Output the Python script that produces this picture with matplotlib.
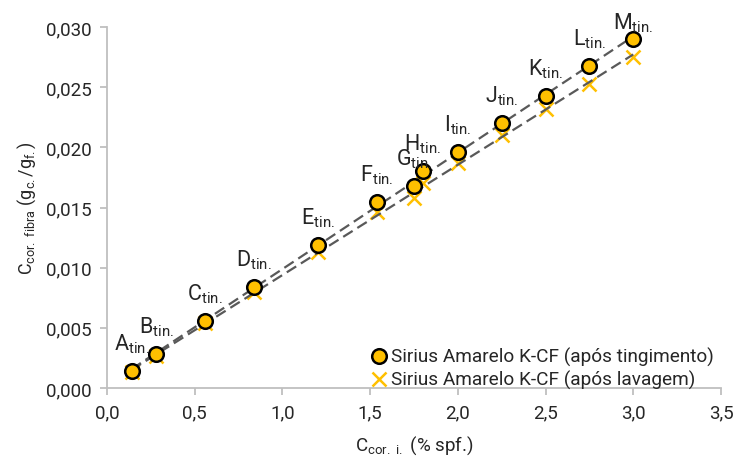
import numpy as np
import matplotlib
matplotlib.use("Agg")
import matplotlib.pyplot as plt
from matplotlib.ticker import FuncFormatter, MultipleLocator

# Dados: concentração inicial vs concentração na fibra
conc_inicial = [0.14, 0.28, 0.56, 0.84, 1.2, 1.54, 1.75, 1.8, 2.0, 2.25, 2.5, 2.75, 3.0]
fibra_tingimento = [0.0014, 0.0028, 0.0056, 0.0084, 0.0119, 0.0155, 0.0168, 0.0180,
                    0.0196, 0.0220, 0.0243, 0.0268, 0.0290]
fibra_lavagem = [0.0013, 0.0027, 0.0054, 0.0080, 0.0113, 0.0146, 0.0158, 0.0170,
                 0.0187, 0.0210, 0.0232, 0.0253, 0.0275]
rotulos = ["A", "B", "C", "D", "E", "F", "G", "H", "I", "J", "K", "L", "M"]

fonte = "Roboto"
plt.rcParams["font.family"] = [fonte, "DejaVu Sans"]
plt.rcParams["mathtext.fontset"] = "custom"
plt.rcParams["mathtext.rm"] = fonte
plt.rcParams["mathtext.it"] = fonte + ":italic"
plt.rcParams["mathtext.bf"] = fonte + ":bold"

amarelo = "#FFC000"
cinza_eixo = "#BFBFBF"
cinza_linha = "#595959"
cor_texto = "#262626"

fig = plt.figure(figsize=(7.34, 4.64), dpi=100)
ax = fig.add_axes([0.1458, 0.1616, 0.8365, 0.778])

x = np.array(conc_inicial)

# linhas de tendência (regressão linear)
for y in (fibra_tingimento, fibra_lavagem):
    a, b = np.polyfit(x, y, 1)
    xs = np.array([x.min(), x.max()])
    ax.plot(xs, a * xs + b, color=cinza_linha, lw=1.6, dashes=(5, 2.5), zorder=3)

ax.plot(x, fibra_lavagem, linestyle="none", marker="x", ms=10, mew=1.8,
        color=amarelo, zorder=2, label="Sirius Amarelo K-CF (após lavagem)")
ax.plot(x, fibra_tingimento, linestyle="none", marker="o", ms=10.5, mew=1.8,
        markerfacecolor=amarelo, markeredgecolor="black", zorder=4,
        label="Sirius Amarelo K-CF (após tingimento)")

# rótulos dos pontos
for i, (xi, yi, r) in enumerate(zip(conc_inicial, fibra_tingimento, rotulos)):
    dy = 5 if i == len(rotulos) - 1 else 16
    ax.annotate(r + r"$_{\mathrm{tin.}}$", (xi, yi), xytext=(0, dy),
                textcoords="offset pixels", ha="center", va="bottom",
                fontsize=15.5, color=cor_texto, zorder=5)

ax.set_xlim(0, 3.5)
ax.set_ylim(0, 0.030)
ax.xaxis.set_major_locator(MultipleLocator(0.5))
ax.yaxis.set_major_locator(MultipleLocator(0.005))
ax.xaxis.set_major_formatter(FuncFormatter(lambda v, p: f"{v:.1f}".replace(".", ",")))
ax.yaxis.set_major_formatter(FuncFormatter(lambda v, p: f"{v:.3f}".replace(".", ",")))

for lado in ("top", "right"):
    ax.spines[lado].set_visible(False)
for lado in ("left", "bottom"):
    ax.spines[lado].set_color(cinza_eixo)
    ax.spines[lado].set_linewidth(1.3)
ax.tick_params(axis="both", direction="out", length=5, width=1.3, color=cinza_eixo,
               labelsize=13.5, labelcolor=cor_texto, pad=6)

ax.set_xlabel(r"C$_{\mathrm{cor.\ i.}}$ (% spf.)", fontsize=13.5, color=cor_texto, labelpad=9)
ax.set_ylabel(r"C$_{\mathrm{cor.\ fibra}}$ (g$_{\mathrm{c.}}$/g$_{\mathrm{f.}}$)",
              fontsize=13, color=cor_texto, labelpad=6)

handles, labels = ax.get_legend_handles_labels()
leg = ax.legend(handles[::-1], labels[::-1], loc="lower right", bbox_to_anchor=(1.0, -0.025),
                frameon=False, fontsize=13.7, handlelength=0.8, handletextpad=0.2,
                labelspacing=0.2, borderaxespad=0.0)
for t in leg.get_texts():
    t.set_color(cor_texto)

fig.savefig("out.png", dpi=100)
